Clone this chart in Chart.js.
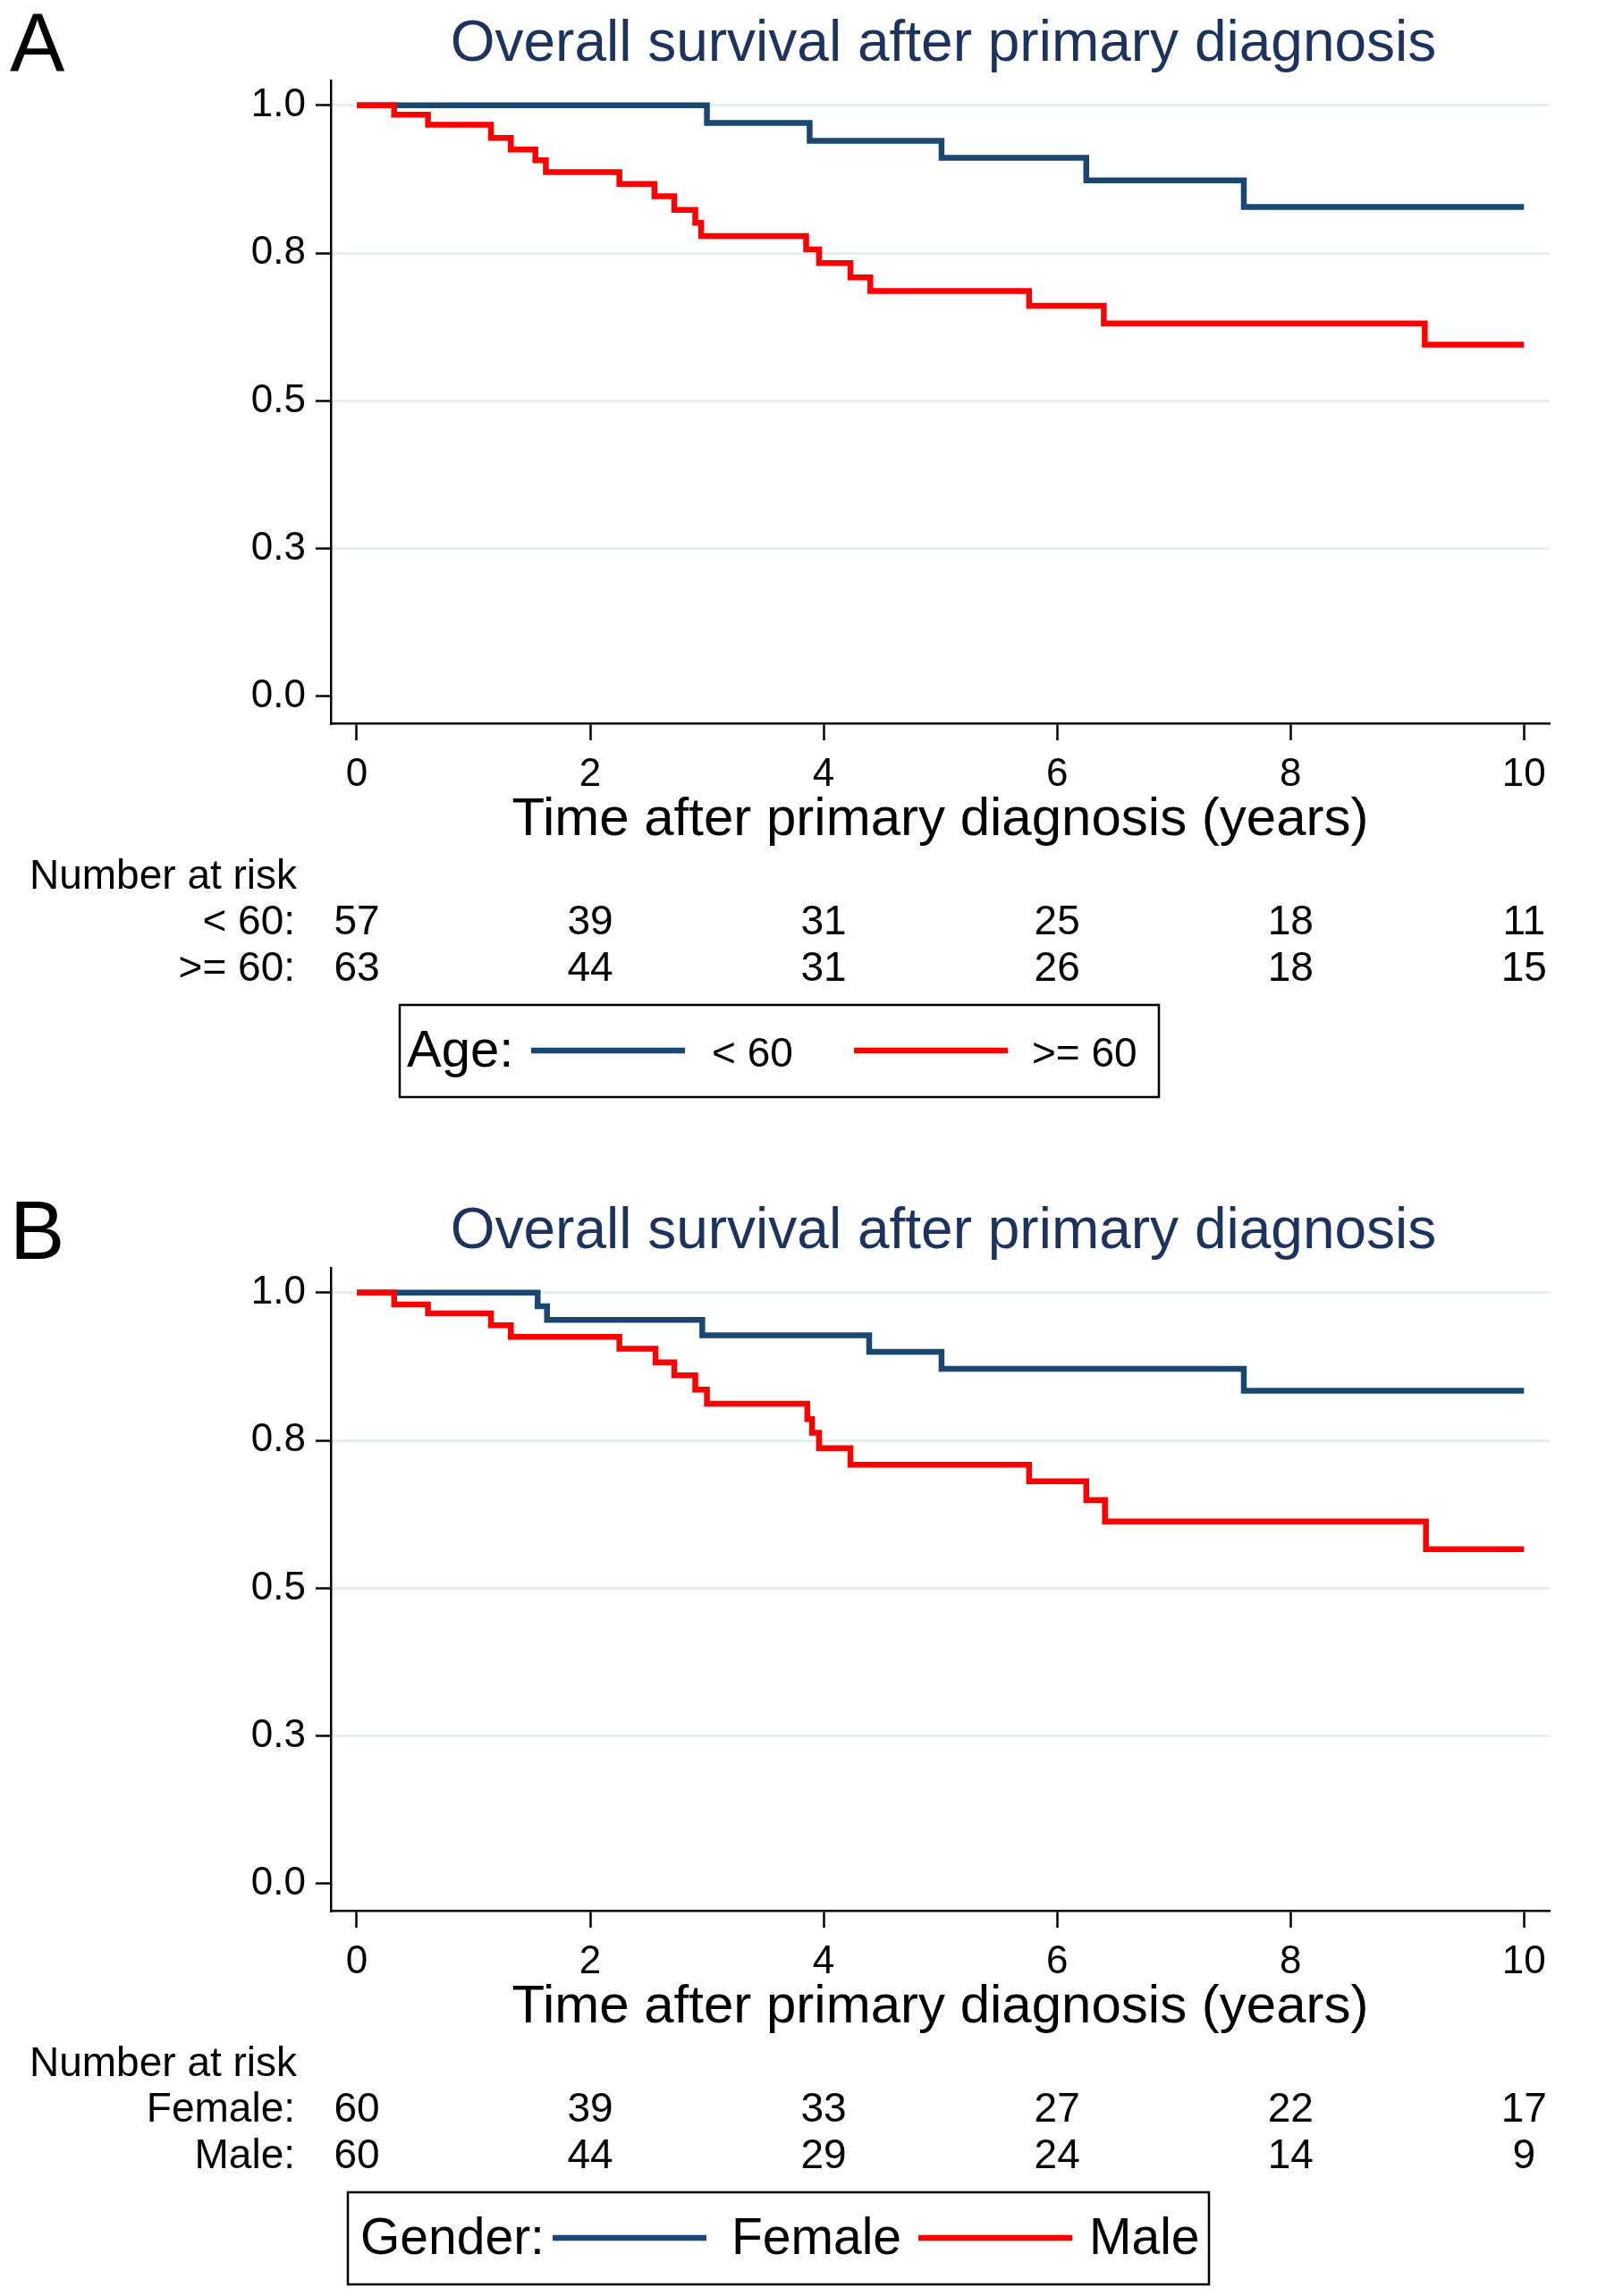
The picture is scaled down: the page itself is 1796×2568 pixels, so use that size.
<!DOCTYPE html>
<html>
<head>
<meta charset="utf-8">
<script src="https://cdn.jsdelivr.net/npm/chart.js@4.4.1/dist/chart.umd.min.js"></script>
<style>
  html, body { margin: 0; padding: 0; background: #fff; }
  canvas { display: block; }
</style>
</head>
<body>
<canvas id="chartA" width="1796" height="1328"></canvas>
<canvas id="chartB" width="1796" height="1240"></canvas>
<script>
// ---- data ----
const yTickValues = [0, 0.25, 0.5, 0.75, 1.0];
const yTickLabels = ["0.0", "0.3", "0.5", "0.8", "1.0"];
const xTickValues = [0, 2, 4, 6, 8, 10];

// panel A: age groups
const under60Times = [0, 3.00, 3.88, 5.01, 6.25, 7.60, 10];
const under60Surv  = [1, 0.970, 0.940, 0.911, 0.873, 0.828, 0.828];
const over60Times  = [0, 0.32, 0.61, 1.15, 1.32, 1.53, 1.62, 2.25, 2.55, 2.72, 2.90, 2.95, 3.85, 3.96, 4.23, 4.40, 5.76, 6.40, 9.15, 10];
const over60Surv   = [1, 0.984, 0.967, 0.945, 0.925, 0.907, 0.887, 0.867, 0.846, 0.823, 0.801, 0.779, 0.756, 0.733, 0.709, 0.686, 0.661, 0.631, 0.595, 0.595];
const riskUnder60  = [57, 39, 31, 25, 18, 11];
const riskOver60   = [63, 44, 31, 26, 18, 15];

// panel B: gender
const femaleTimes = [0, 1.55, 1.63, 2.96, 4.39, 5.01, 7.60, 10];
const femaleSurv  = [1, 0.977, 0.954, 0.928, 0.900, 0.871, 0.834, 0.834];
const maleTimes   = [0, 0.32, 0.61, 1.15, 1.32, 2.25, 2.56, 2.72, 2.90, 3.00, 3.86, 3.90, 3.96, 4.23, 5.76, 6.25, 6.41, 9.16, 10];
const maleSurv    = [1, 0.980, 0.965, 0.945, 0.925, 0.905, 0.882, 0.860, 0.836, 0.812, 0.786, 0.763, 0.737, 0.709, 0.681, 0.649, 0.613, 0.566, 0.566];
const riskFemale  = [60, 39, 33, 27, 22, 17];
const riskMale    = [60, 44, 29, 24, 14, 9];

const FONT = '"Liberation Sans", Arial, Helvetica, sans-serif';
const NAVY = "#1a476f";
const RED = "#ff0000";
const GRID = "#e6eef0";
const TITLE_COLOR = "#1c335f";

function toPoints(times, surv) {
  return times.map((t, i) => ({ x: t, y: surv[i] }));
}

// draws panel letter, title, number-at-risk table and the boxed legend
const panelDecor = {
  id: "panelDecor",
  afterDraw(chart, args, opts) {
    const ctx = chart.ctx;
    const xs = chart.scales.x;
    ctx.save();
    ctx.textBaseline = "alphabetic";

    ctx.fillStyle = "#000";
    ctx.font = "92px " + FONT;
    ctx.textAlign = "left";
    ctx.fillText(opts.letter, 11, 80);

    ctx.fillStyle = TITLE_COLOR;
    ctx.font = "64px " + FONT;
    ctx.textAlign = "center";
    ctx.fillText(opts.title, 1055, 68);

    // number at risk
    ctx.fillStyle = "#000";
    ctx.font = "46px " + FONT;
    ctx.textAlign = "left";
    ctx.fillText("Number at risk", 33, 994);
    opts.rows.forEach((row, r) => {
      const y = 1045 + r * 52;
      ctx.textAlign = "right";
      ctx.fillText(row.label, 330, y);
      ctx.textAlign = "center";
      row.counts.forEach((n, i) => {
        ctx.fillText(String(n), xs.getPixelForValue(xTickValues[i]), y);
      });
    });

    // legend box
    const lg = opts.legend;
    ctx.strokeStyle = "#000";
    ctx.lineWidth = 2.5;
    ctx.strokeRect(lg.left, 1124, lg.right - lg.left, 103);
    ctx.textAlign = "left";
    ctx.font = lg.labelSize + "px " + FONT;
    ctx.fillText(lg.label, lg.labelX, 1193);
    lg.items.forEach((it, i) => {
      const ds = chart.data.datasets[i];
      ctx.strokeStyle = ds.borderColor;
      ctx.lineWidth = 6.5;
      ctx.beginPath();
      ctx.moveTo(it.lineX, 1175);
      ctx.lineTo(it.lineX + 172, 1175);
      ctx.stroke();
      ctx.font = lg.itemSize + "px " + FONT;
      ctx.fillText(ds.label, it.textX, 1193);
    });
    ctx.restore();
  }
};

function makeChart(id, height, ds, decor) {
  const axisBottom = 809;
  const xScaleHeight = 917 + 36 - axisBottom;
  return new Chart(document.getElementById(id), {
    type: "line",
    data: {
      datasets: [
        { label: ds[0].label, data: ds[0].data, borderColor: NAVY, order: 2 },
        { label: ds[1].label, data: ds[1].data, borderColor: RED, order: 1 }
      ]
    },
    options: {
      responsive: false,
      animation: false,
      devicePixelRatio: 1,
      layout: { padding: { top: 90, left: 0, right: 63, bottom: height - axisBottom - xScaleHeight } },
      elements: {
        line: { borderWidth: 6.5, tension: 0, stepped: true, borderCapStyle: "butt", borderJoinStyle: "miter" },
        point: { radius: 0, hoverRadius: 0 }
      },
      plugins: {
        legend: { display: false },
        tooltip: { enabled: false },
        title: { display: false },
        panelDecor: decor
      },
      scales: {
        x: {
          type: "linear",
          min: -0.222,
          max: 10.22,
          afterBuildTicks: (s) => { s.ticks = xTickValues.map(v => ({ value: v })); },
          afterFit: (s) => { s.height = xScaleHeight; },
          grid: { drawOnChartArea: false, drawTicks: true, tickLength: 19, tickColor: "#000", tickWidth: 2.5 },
          border: { display: true, color: "#000", width: 2.5 },
          ticks: { color: "#000", padding: 12, maxRotation: 0, font: { family: FONT, size: 44, lineHeight: 1.2 } },
          title: {
            display: true,
            text: "Time after primary diagnosis (years)",
            color: "#000",
            padding: 0,
            font: { family: FONT, size: 60, lineHeight: 1.2 }
          }
        },
        y: {
          type: "linear",
          min: -0.0454,
          max: 1.042,
          afterBuildTicks: (s) => { s.ticks = yTickValues.map(v => ({ value: v })); },
          afterFit: (s) => { s.width = 370; },
          grid: {
            color: (c) => (c.tick && c.tick.value === 0 ? "rgba(0,0,0,0)" : GRID),
            lineWidth: 3,
            tickLength: 17,
            tickColor: "#000",
            tickWidth: 2.5
          },
          border: { display: true, color: "#000", width: 2.5 },
          ticks: {
            color: "#000",
            padding: 11,
            font: { family: FONT, size: 44, lineHeight: 1.2 },
            callback: (v, i) => yTickLabels[i]
          }
        }
      }
    },
    plugins: [panelDecor]
  });
}

makeChart("chartA", 1328,
  [
    { label: "< 60", data: toPoints(under60Times, under60Surv) },
    { label: ">= 60", data: toPoints(over60Times, over60Surv) }
  ],
  {
    letter: "A",
    title: "Overall survival after primary diagnosis",
    rows: [
      { label: "< 60:", counts: riskUnder60 },
      { label: ">= 60:", counts: riskOver60 }
    ],
    legend: {
      left: 447, right: 1296, label: "Age:", labelX: 455, labelSize: 58, itemSize: 46,
      items: [ { lineX: 594, textX: 796 }, { lineX: 955, textX: 1154 } ]
    }
  });

makeChart("chartB", 1240,
  [
    { label: "Female", data: toPoints(femaleTimes, femaleSurv) },
    { label: "Male", data: toPoints(maleTimes, maleSurv) }
  ],
  {
    letter: "B",
    title: "Overall survival after primary diagnosis",
    rows: [
      { label: "Female:", counts: riskFemale },
      { label: "Male:", counts: riskMale }
    ],
    legend: {
      left: 389, right: 1352, label: "Gender:", labelX: 403, labelSize: 57, itemSize: 57,
      items: [ { lineX: 618, textX: 818 }, { lineX: 1027, textX: 1218 } ]
    }
  });
</script>
</body>
</html>
